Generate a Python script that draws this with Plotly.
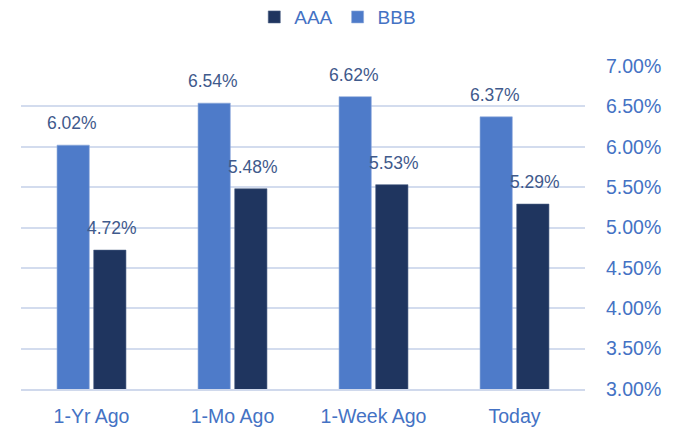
import plotly.graph_objects as go

categories = ["1-Yr Ago", "1-Mo Ago", "1-Week Ago", "Today"]
bbb_values = [6.02, 6.54, 6.62, 6.37]
aaa_values = [4.72, 5.48, 5.53, 5.29]
tick_values = [3.0, 3.5, 4.0, 4.5, 5.0, 5.5, 6.0, 6.5, 7.0]
tick_labels = [f"{v:.2f}%" for v in tick_values]

FONT = "Liberation Sans, Arial, sans-serif"
BBB_COLOR = "#4E7BC9"
AAA_COLOR = "#1F355F"
TICK_COLOR = "#4472C4"
LABEL_COLOR = "#3F5A8C"

fig = go.Figure()
fig.add_trace(go.Bar(
    name="BBB", x=categories, y=bbb_values, marker_color=BBB_COLOR,
    marker_line=dict(color="#8FA9DA", width=0.6), legendrank=2,
))
fig.add_trace(go.Bar(
    name="AAA", x=categories, y=aaa_values, marker_color=AAA_COLOR,
    marker_line=dict(color="#4A5F85", width=0.6), legendrank=1,
))

for cat, v in zip(categories, bbb_values):
    fig.add_annotation(x=cat, y=v, xref="x", yref="y", text=f"{v:.2f}%",
                       showarrow=False, xshift=-20, yshift=10, yanchor="bottom",
                       font=dict(family=FONT, size=17.5, color=LABEL_COLOR))
for cat, v in zip(categories, aaa_values):
    fig.add_annotation(x=cat, y=v, xref="x", yref="y", text=f"{v:.2f}%",
                       showarrow=False, xshift=20, yshift=10, yanchor="bottom",
                       font=dict(family=FONT, size=17.5, color=LABEL_COLOR))

fig.update_layout(
    width=687, height=432,
    margin=dict(l=13, r=110, t=58, b=51),
    paper_bgcolor="white", plot_bgcolor="white",
    barmode="group", bargap=0.48, bargroupgap=0.12,
    font=dict(family=FONT, size=19, color=TICK_COLOR),
    legend=dict(orientation="h", xref="container", yref="container",
                x=0.48, xanchor="center", y=0.979, yanchor="middle",
                font=dict(family=FONT, size=19, color=TICK_COLOR),
                itemwidth=30, tracegroupgap=0),
    showlegend=True,
)
fig.update_xaxes(showgrid=False, showline=True, linecolor="#D0D9EC", linewidth=1.5,
                 ticks="", ticklabelstandoff=9,
                 tickfont=dict(family=FONT, size=19.5, color=TICK_COLOR))
fig.update_yaxes(side="right", range=[3.0, 7.0], tickvals=tick_values, ticktext=tick_labels,
                 showgrid=True, gridcolor="#D3DCEE", gridwidth=1.5, zeroline=False,
                 showline=False, ticks="", ticklabelstandoff=20,
                 tickfont=dict(family=FONT, size=19.5, color=TICK_COLOR))

fig.write_html("out.html")
